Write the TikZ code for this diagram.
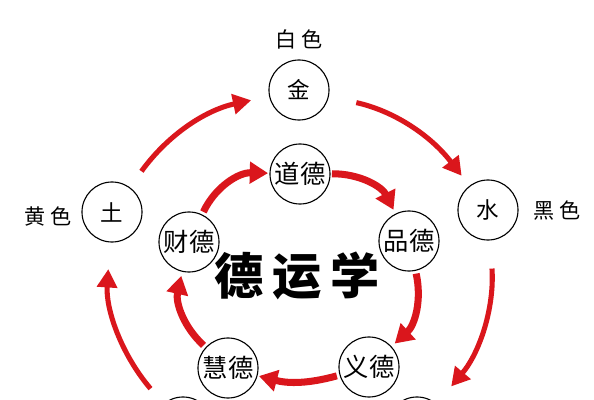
\documentclass[tikz,border=0pt]{standalone}
\usepackage{fontspec}
\usetikzlibrary{arrows.meta}
\newfontfamily\cjk{Noto Sans CJK SC}
\definecolor{wuxingRed}{RGB}{218,22,28}
\tikzset{
  element/.style={circle,draw=black,line width=.8pt,fill=white,minimum size=1.5cm,inner sep=0pt,font=\cjk\fontsize{16}{16}\selectfont},
  virtue/.style={element,font=\cjk\fontsize{18}{18}\selectfont},
  hue/.style={font=\cjk\fontsize{15}{15}\selectfont},
  cycleOuter/.style={draw=wuxingRed,line width=3.6pt,-{Triangle[length=13pt,width=14pt]}},
  cycleInner/.style={draw=wuxingRed,line width=5pt,-{Triangle[length=13pt,width=15pt]}}
}
\begin{document}
\begin{tikzpicture}[x=0.025cm,y=-0.025cm]
\useasboundingbox (0,0) rectangle (594,400);
\fill[white] (0,0) rectangle (594,400);
\clip (0,0) rectangle (594,400);

% outer ring
\node[element] (jin) at (299,90) {金};
\node[element] (shui) at (488,210) {水};
\node[element] (mu) at (417,427) {};
\node[element] (huo) at (183,427) {};
\node[element] (tu) at (112,212) {土};

\node[hue] (baise) at (299,39) {白\hspace{3pt}色};
\node[hue] (heise) at (557,210) {黑\hspace{3pt}色};
\node[hue] (huangse) at (48,216) {黄\hspace{3pt}色};

% inner ring
\node[virtue] (daode) at (300,174) {道德};
\node[virtue] (pinde) at (409,241) {品德};
\node[virtue] (yide) at (369,367) {义德};
\node[virtue] (huide) at (228,368) {慧德};
\node[virtue] (caide) at (189,242) {财德};

\node[font=\cjk\bfseries\fontsize{35}{35}\selectfont] (deyun) at (297,276) {德\hspace{6pt}运\hspace{6pt}学};

\draw[cycleOuter,shorten <=14pt,shorten >=13pt] (tu) to[bend left=21] (jin);
\draw[cycleOuter,shorten <=20pt,shorten >=9pt] (jin) to[bend left=20] (shui);
\draw[cycleOuter,shorten <=20pt,shorten >=16pt] (shui) to[bend left=22] (mu);
\draw[cycleOuter,shorten <=14pt,shorten >=19pt] (huo) to[bend left=22] (tu);

\draw[cycleInner,shorten <=2pt,shorten >=1pt] (caide) to[bend left=33] (daode);
\draw[cycleInner,shorten <=1pt,shorten >=3pt] (daode) to[bend left=32] (pinde);
\draw[cycleInner,shorten <=2pt,shorten >=3pt] (pinde) to[bend left=30] (yide);
\draw[cycleInner,shorten <=2pt,shorten >=1pt] (yide) to[bend left=15] (huide);
\draw[cycleInner,shorten <=2pt,shorten >=3pt] (huide) to[bend left=30] (caide);
\end{tikzpicture}
\end{document}
